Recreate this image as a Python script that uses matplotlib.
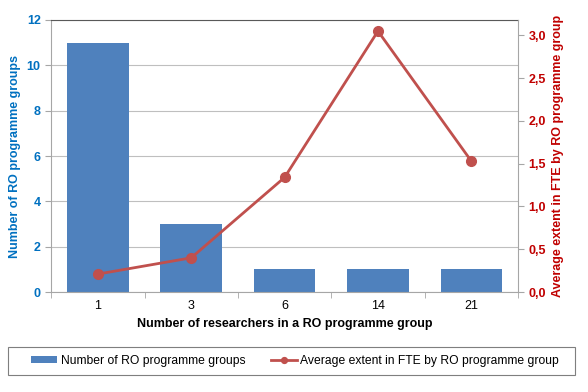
import numpy as np
import matplotlib.pyplot as plt
from matplotlib.patches import Rectangle

plt.rcParams['font.family'] = ['Liberation Sans', 'DejaVu Sans']

researchers = ['1', '3', '6', '14', '21']
n_groups = [11, 3, 1, 1, 1]
avg_fte = [0.21, 0.40, 1.34, 3.05, 1.53]

blue = '#4F81BD'
red = '#C0504D'

fig = plt.figure(figsize=(5.88, 3.92), dpi=100)
ax = fig.add_axes([0.087, 0.255, 0.794, 0.694])
x = np.arange(len(researchers))

ax.bar(x, n_groups, width=0.66, color=blue, label='Number of RO programme groups', zorder=2)
ax.set_xlim(-0.5, len(researchers) - 0.5)
ax.set_ylim(0, 12)
ax.set_yticks(range(0, 13, 2))
ax.yaxis.grid(True, color='#BFBFBF', linewidth=0.8, zorder=0)
ax.set_xticks(x)
ax.set_xticklabels(researchers)
ax.set_xticks(np.arange(-0.5, len(researchers)), minor=True)
ax.tick_params(axis='x', which='major', length=0, labelsize=9, pad=6)
ax.tick_params(axis='x', which='minor', length=4, color='#A6A6A6')
ax.tick_params(axis='y', colors='#0070C0', labelsize=9, length=4)
ax.tick_params(axis='y', color='#A6A6A6')
for lab in ax.get_yticklabels():
    lab.set_fontweight('bold')
ax.set_ylabel('Number of RO programme groups', color='#0070C0', fontsize=9, fontweight='bold')
ax.set_xlabel('Number of researchers in a RO programme group', fontsize=9, fontweight='bold')
ax.spines['top'].set_color('#595959')
ax.spines['left'].set_color('#A6A6A6')
ax.spines['bottom'].set_color('#A6A6A6')
ax.spines['right'].set_visible(False)

ax2 = ax.twinx()
ax2.plot(x, avg_fte, color=red, linewidth=2, marker='o', markersize=7,
         label='Average extent in FTE by RO programme group')
ax2.set_ylim(0, 3.18)
ax2.set_yticks(np.arange(0, 3.01, 0.5))
ax2.set_yticklabels([f'{v:.1f}'.replace('.', ',') for v in np.arange(0, 3.01, 0.5)])
ax2.tick_params(axis='y', colors='#C00000', labelsize=9, length=4)
ax2.tick_params(axis='y', color='#A6A6A6')
for lab in ax2.get_yticklabels():
    lab.set_fontweight('bold')
ax2.set_ylabel('Average extent in FTE by RO programme group', color='#C00000', fontsize=9, fontweight='bold')
ax2.spines['right'].set_color('#A6A6A6')
ax2.spines['top'].set_visible(False)
ax2.spines['left'].set_visible(False)
ax2.spines['bottom'].set_visible(False)

# legend box drawn separately, it is wider than the entries
fig.patches.append(Rectangle((0.0136, 0.0434), 0.964, 0.0714, transform=fig.transFigure,
                             fill=False, edgecolor='#7F7F7F', linewidth=0.8))
h1, l1 = ax.get_legend_handles_labels()
h2, l2 = ax2.get_legend_handles_labels()
leg = fig.legend(h1 + h2, l1 + l2, loc='center', bbox_to_anchor=(0.502, 0.079),
                 ncol=2, fontsize=8.7, frameon=False, handlelength=2.15,
                 columnspacing=2.1, handletextpad=0.3, handleheight=0.5,
                 markerscale=0.6, borderaxespad=0)

fig.savefig('out.png', dpi=100)
